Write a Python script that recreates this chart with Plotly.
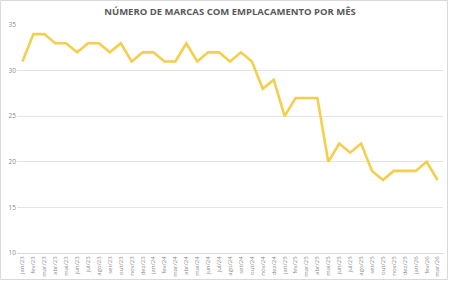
import plotly.graph_objects as go

months = ["jan", "fev", "mar", "abr", "mai", "jun", "jul", "ago", "set", "out", "nov", "dez"]
categories = [f"{m}/{y}" for y in ["23", "24", "25"] for m in months] + ["jan/26", "fev/26", "mar/26"]
values = [31, 34, 34, 33, 33, 32, 33, 33, 32, 33, 31, 32,
          32, 31, 31, 33, 31, 32, 32, 31, 32, 31, 28, 29,
          25, 27, 27, 27, 20, 22, 21, 22, 19, 18, 19, 19,
          19, 20, 18]
y_ticks = [10, 15, 20, 25, 30, 35]
title = "NÚMERO DE MARCAS COM EMPLACAMENTO POR MÊS"

W, H = 450, 281
ml, mr, mt, mb = 17, 7, 25, 28
pw, ph = W - ml - mr, H - mt - mb

fig = go.Figure()
fig.add_trace(go.Scatter(x=categories, y=values, mode="lines",
                         line=dict(color="#F5CF4C", width=2.6), hoverinfo="x+y"))

def px_to_paper_x(p):
    return (p - ml) / pw

def px_to_paper_y(p):
    return (H - mb - p) / ph

fig.add_shape(type="rect", xref="paper", yref="paper",
              x0=px_to_paper_x(0.5), x1=px_to_paper_x(447.5),
              y0=px_to_paper_y(279.5), y1=px_to_paper_y(0.5),
              line=dict(color="#D9D9D9", width=1), fillcolor="rgba(0,0,0,0)", layer="below")

fig.update_layout(
    width=W, height=H,
    margin=dict(l=ml, r=mr, t=mt, b=mb, autoexpand=False),
    paper_bgcolor="white", plot_bgcolor="white",
    showlegend=False,
    title=dict(text=f"<b>{title}</b>", x=0.5, xref="paper", xanchor="center",
               y=1 - 12 / H, yanchor="middle",
               font=dict(family="Open Sans", size=9.5, color="#595959")),
    xaxis=dict(type="category", range=[-0.5, len(categories) - 0.5], automargin=False,
               tickangle=-90, tickfont=dict(family="Open Sans", size=6, color="#8C8C8C"),
               showgrid=False, showline=True, linecolor="#D9D9D9", linewidth=1,
               ticks="", fixedrange=True),
    yaxis=dict(range=[10, 35], tickvals=y_ticks, automargin=False,
               tickfont=dict(family="Open Sans", size=6.5, color="#8C8C8C"),
               showgrid=True, gridcolor="#E3E3E3", gridwidth=1,
               zeroline=False, showline=False, ticks="", fixedrange=True),
)

fig.write_html("out.html")
